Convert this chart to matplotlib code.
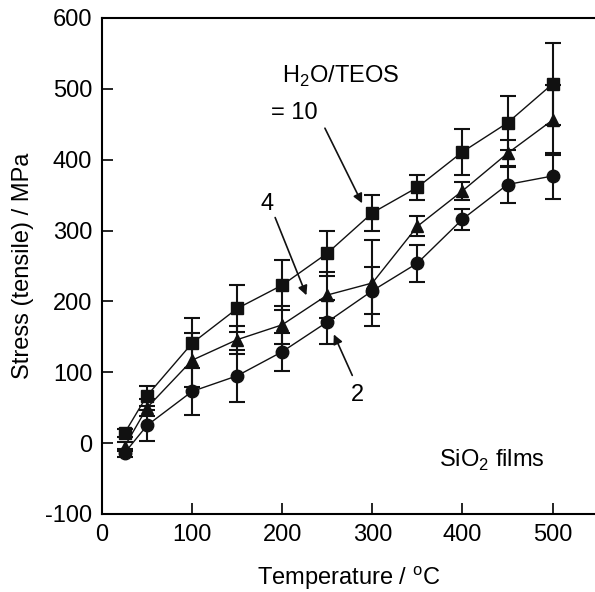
import numpy as np
import matplotlib
matplotlib.use("Agg")
import matplotlib.pyplot as plt

plt.rcParams['font.family'] = ['Liberation Sans', 'DejaVu Sans']
plt.rcParams['mathtext.fontset'] = 'custom'
plt.rcParams['mathtext.rm'] = 'Liberation Sans'
plt.rcParams['axes.unicode_minus'] = False

temp = [25, 50, 100, 150, 200, 250, 300, 350, 400, 450, 500]

# H2O/TEOS = 10 (squares)
s10 = [14, 67, 141, 190, 223, 268, 325, 361, 411, 452, 507]
e10 = [6, 14, 35, 33, 35, 32, 25, 18, 33, 38, 58]
# H2O/TEOS = 4 (triangles)
s4 = [-5, 50, 117, 146, 167, 209, 226, 306, 356, 409, 456]
e4 = [6, 12, 38, 20, 27, 33, 60, 14, 13, 19, 50]
# H2O/TEOS = 2 (circles)
s2 = [-14, 25, 73, 95, 129, 171, 215, 254, 316, 365, 377]
e2 = [5, 22, 33, 37, 27, 31, 33, 26, 15, 26, 32]

fs = 17

fig = plt.figure(figsize=(5.95, 5.92), dpi=100)
ax = fig.add_axes([0.1714, 0.1318, 0.83, 0.8378])

for y, e, m in [(s10, e10, 's'), (s4, e4, '^'), (s2, e2, 'o')]:
    ax.errorbar(temp, y, yerr=e, color='#111111', marker=m, ms=9,
                lw=1.0, elinewidth=1.5, capsize=6, capthick=1.5)

ax.set_xlim(0, 548)
ax.set_ylim(-100, 600)
ax.set_xticks([0, 100, 200, 300, 400, 500])
ax.set_yticks([-100, 0, 100, 200, 300, 400, 500, 600])
ax.tick_params(direction='in', length=8, width=1.2, labelsize=fs, pad=7)
ax.spines['right'].set_visible(False)
for sp in ['left', 'top', 'bottom']:
    ax.spines[sp].set_linewidth(1.5)

ax.set_xlabel('Temperature / $^{\\mathregular{o}}$C', fontsize=fs, labelpad=13)
ax.set_ylabel('Stress (tensile) / MPa', fontsize=fs, labelpad=8)

ax.text(265, 517, 'H$_{\\mathregular{2}}$O/TEOS', fontsize=fs, ha='center', va='center')
ax.text(213, 466, '= 10', fontsize=fs, ha='center', va='center')
ax.annotate('', xy=(290, 335), xytext=(246, 448),
            arrowprops=dict(arrowstyle='-|>', color='#111111', lw=1.2, mutation_scale=14))
ax.text(183, 338, '4', fontsize=fs, ha='center', va='center')
ax.annotate('', xy=(228, 205), xytext=(191, 322),
            arrowprops=dict(arrowstyle='-|>', color='#111111', lw=1.2, mutation_scale=14))
ax.text(284, 68, '2', fontsize=fs, ha='center', va='center')
ax.annotate('', xy=(256, 157), xytext=(279, 92),
            arrowprops=dict(arrowstyle='-|>', color='#111111', lw=1.2, mutation_scale=14))
ax.text(433, -24, 'SiO$_{\\mathregular{2}}$ films', fontsize=fs, ha='center', va='center')

fig.savefig('out.png', dpi=100)
